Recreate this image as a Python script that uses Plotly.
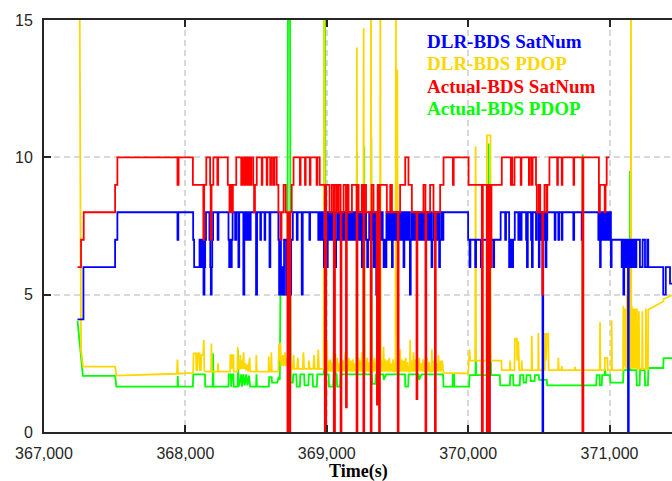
import plotly.graph_objects as go

# ---------------- data (time in s, value) ----------------
DLR_SATNUM = [
    (367237, 4.1), (367279, 6), (367503, 7), (367519, 8), (367944, 7), (367950, 8),
    (368055, 7), (368062, 6), (368100, 7), (368106, 6), (368112, 7), (368118, 6), (368124, 7),
    (368128, 5), (368135, 6), (368140, 7), (368146, 8), (368170, 7), (368176, 6), (368180, 5),
    (368186, 6), (368190, 7), (368196, 8), (368228, 7), (368234, 8), (368305, 7), (368310, 6),
    (368316, 7), (368322, 6), (368328, 7), (368334, 8), (368352, 7), (368360, 8), (368375, 6),
    (368381, 8), (368410, 5), (368417, 8), (368424, 7), (368429, 8), (368435, 7), (368440, 8),
    (368446, 7), (368451, 8), (368457, 7), (368462, 8), (368500, 5), (368507, 8), (368530, 7),
    (368535, 8), (368560, 7), (368565, 8), (368595, 6), (368601, 8), (368658, 7), (368663, 5),
    (368670, 7), (368676, 5), (368684, 6), (368690, 5), (368698, 7), (368712, 5), (368718, 7),
    (368724, 5), (368730, 7), (368740, 5), (368748, 7), (368760, 8), (368788, 7), (368794, 8),
    (368823, 5), (368830, 8), (368877, 7), (368882, 8), (368940, 7), (368948, 8), (368956, 7),
    (368964, 8), (368972, 7), (368980, 6), (368986, 8), (368995, 7), (369001, 6), (369007, 8),
    (369015, 7), (369022, 8), (369030, 7), (369038, 8), (369046, 7), (369054, 8), (369060, 6),
    (369066, 7), (369074, 8), (369082, 7), (369090, 8), (369098, 7), (369106, 8), (369114, 7),
    (369122, 8), (369130, 7), (369138, 8), (369146, 7), (369154, 8), (369162, 7), (369170, 8),
    (369178, 7), (369186, 8), (369194, 7), (369202, 8), (369210, 7), (369218, 8), (369226, 7),
    (369234, 8), (369242, 7), (369248, 6), (369254, 8), (369262, 7), (369270, 8), (369278, 7),
    (369286, 6), (369292, 7), (369300, 8), (369310, 7), (369318, 8), (369326, 7), (369331, 6),
    (369337, 8), (369350, 5), (369356, 7), (369364, 6), (369370, 8), (369380, 7), (369388, 8),
    (369396, 7), (369402, 6), (369408, 7), (369416, 6), (369422, 8), (369430, 7), (369438, 8),
    (369446, 7), (369454, 8), (369461, 6), (369467, 8), (369475, 7), (369483, 8), (369491, 7),
    (369499, 8), (369507, 7), (369515, 8), (369523, 7), (369531, 8), (369539, 7), (369543, 6),
    (369549, 8), (369557, 7), (369565, 8), (369573, 7), (369581, 8), (369588, 5), (369594, 7),
    (369602, 8), (369610, 7), (369618, 8), (369626, 7), (369634, 8), (369642, 7), (369650, 8),
    (369658, 7), (369666, 8), (369674, 7), (369682, 8), (369690, 7), (369698, 8), (369706, 7),
    (369714, 8), (369722, 7), (369730, 8), (369741, 6), (369747, 7), (369755, 8), (369763, 7),
    (369771, 8), (369779, 7), (369787, 8), (369795, 6), (369801, 7), (369809, 8), (369817, 7),
    (369825, 8), (370000, 7), (370010, 6), (370016, 7), (370050, 6), (370056, 7), (370090, 6),
    (370096, 7), (370140, 5), (370145, 0), (370152, 6), (370158, 7), (370178, 6), (370184, 7),
    (370230, 8), (370262, 7), (370268, 8), (370290, 6), (370296, 7), (370300, 6), (370306, 7),
    (370312, 6), (370318, 7), (370330, 8), (370355, 7), (370361, 8), (370372, 7), (370378, 8),
    (370410, 7), (370416, 6), (370422, 8), (370445, 7), (370451, 6), (370457, 8), (370480, 7),
    (370486, 8), (370500, 6), (370505, 8), (370512, 7), (370518, 8), (370526, 0), (370531, 7),
    (370537, 8), (370548, 6), (370554, 7), (370560, 8), (370612, 7), (370618, 8), (370638, 7),
    (370644, 8), (370662, 7), (370667, 8), (370744, 7), (370750, 8), (370803, 7), (370808, 8),
    (370921, 7), (370926, 8), (370933, 6), (370938, 8), (370945, 7), (370950, 8), (370958, 7),
    (370964, 8), (370972, 7), (370978, 8), (370985, 7), (370990, 8), (370998, 7), (371003, 8),
    (371010, 6), (371015, 7), (371086, 6), (371092, 7), (371098, 5), (371104, 6), (371110, 7),
    (371116, 6), (371122, 7), (371128, 6), (371131, 0), (371136, 7), (371142, 6), (371148, 7),
    (371155, 6), (371162, 7), (371170, 6), (371176, 7), (371184, 6), (371190, 7), (371215, 6),
    (371234, 7), (371251, 6), (371267, 7), (371274, 6), (371380, 5), (371398, 6), (371428, 5.4),
    (371442, 5.4),
]

ACTUAL_SATNUM = [
    (367237, 6), (367262, 7), (367281, 8), (367503, 9), (367519, 10), (367944, 9), (367952, 10),
    (368053, 9), (368127, 7), (368133, 9), (368148, 10), (368175, 9), (368179, 7), (368185, 9),
    (368198, 10), (368226, 9), (368232, 10), (368300, 9), (368312, 8), (368318, 9), (368330, 8),
    (368336, 9), (368360, 10), (368395, 9), (368400, 10), (368412, 9), (368417, 10), (368428, 9),
    (368433, 10), (368445, 9), (368450, 10), (368460, 9), (368466, 10), (368480, 9), (368486, 8),
    (368492, 9), (368505, 10), (368540, 9), (368545, 10), (368575, 9), (368580, 10), (368600, 9),
    (368606, 10), (368620, 9), (368630, 10), (368646, 9), (368658, 8), (368672, 7), (368680, 8),
    (368695, 9), (368710, 8), (368722, 0), (368728, 8), (368736, 0), (368742, 8), (368752, 9),
    (368765, 10), (368810, 9), (368815, 10), (368846, 9), (368851, 10), (368880, 9), (368885, 10),
    (368928, 9), (368933, 10), (368950, 9), (368986, 0), (368996, 9), (369020, 8), (369036, 9),
    (369050, 0), (369058, 9), (369072, 8), (369084, 9), (369098, 0), (369104, 8), (369119, 9),
    (369136, 0.9), (369142, 9), (369154, 8), (369178, 9), (369211, 0), (369217, 9), (369225, 8),
    (369248, 9), (369259, 0), (369265, 9), (369278, 8), (369311, 0), (369317, 9), (369331, 8),
    (369355, 1), (369360, 9), (369370, 0), (369376, 9), (369425, 8), (369449, 9), (369461, 8),
    (369502, 0), (369508, 8), (369519, 9), (369555, 10), (369578, 9), (369602, 8), (369635, 1.2),
    (369641, 8), (369684, 9), (369698, 0), (369704, 8), (369731, 9), (369755, 8), (369765, 0),
    (369771, 8), (369802, 9), (369826, 10), (369892, 9), (369898, 10), (370003, 9), (370097, 0),
    (370104, 9), (370132, 0), (370137, 9), (370148, 0), (370153, 9), (370160, 6), (370165, 9),
    (370238, 10), (370302, 9), (370307, 10), (370312, 9), (370328, 10), (370372, 9), (370377, 10),
    (370430, 9), (370436, 10), (370450, 9), (370456, 10), (370480, 9), (370486, 8), (370500, 9),
    (370510, 8), (370525, 5), (370530, 8), (370540, 9), (370555, 8), (370560, 9), (370575, 10),
    (370630, 9), (370635, 10), (370662, 9), (370667, 10), (370745, 9), (370750, 10), (370808, 0),
    (370815, 10), (370925, 8), (370932, 9), (370966, 8), (370972, 9), (370980, 10), (370999, 10),
]

DLR_PDOP = [
    (367252, 16), (367262, 3.0), (367276, 2.38), (367503, 2.38), (367512, 2.05), (367940, 2.12),
    (367944, 2.64), (367948, 2.12), (368052, 2.15), (368055, 2.15), (368058, 2.86), (368075, 2.86),
    (368078, 2.25), (368085, 2.25), (368088, 2.86), (368100, 2.86), (368103, 2.25), (368110, 2.25),
    (368113, 2.8), (368126, 2.8), (368130, 3.35), (368134, 2.25), (368142, 2.2), (368182, 2.2),
    (368184, 3.22), (368187, 2.2), (368229, 2.2), (368231, 2.5), (368234, 2.2), (368316, 2.2),
    (368318, 2.8), (368326, 2.8), (368328, 2.3), (368334, 2.8), (368340, 2.8), (368342, 2.2),
    (368368, 2.2), (368370, 3.1), (368373, 2.3), (368385, 2.3), (368389, 2.8), (368392, 2.3),
    (368400, 2.6), (368404, 2.3), (368412, 2.9), (368415, 2.3), (368425, 2.5), (368428, 2.25),
    (368440, 2.45), (368443, 2.2), (368455, 2.7), (368458, 2.2), (368500, 2.2), (368502, 2.8),
    (368505, 2.2), (368588, 2.2), (368590, 2.75), (368593, 2.2), (368605, 2.2), (368608, 2.9),
    (368611, 2.2), (368658, 2.2), (368662, 3.2), (368668, 2.6), (368672, 3.25), (368678, 2.4),
    (368690, 2.8), (368694, 2.4), (368705, 2.9), (368709, 2.4), (368720, 2.7), (368726, 2.4),
    (368735, 3.3), (368740, 2.5), (368750, 2.3), (368760, 2.3), (368765, 2.8), (368770, 2.3),
    (368790, 2.3), (368795, 2.7), (368800, 2.3), (368830, 2.3), (368835, 2.9), (368840, 2.3),
    (368870, 2.3), (368874, 2.6), (368880, 2.3), (368905, 2.3), (368910, 2.8), (368915, 2.3),
    (368935, 2.3), (368940, 3.0), (368945, 2.3), (368978, 2.3), (368983, 16), (368988, 2.6),
    (368995, 2.2), (369001, 3.35), (369004, 2.2), (369012, 2.6), (369018, 2.2), (369026, 2.65),
    (369032, 2.2), (369040, 2.5), (369046, 2.2), (369048, 2.9), (369051, 2.2), (369060, 2.6),
    (369066, 2.2), (369074, 2.7), (369080, 2.2), (369088, 2.5), (369094, 2.2), (369102, 2.65),
    (369108, 2.2), (369116, 2.6), (369122, 2.2), (369131, 2.9), (369134, 2.2), (369142, 2.55),
    (369148, 2.2), (369156, 2.7), (369162, 2.2), (369170, 2.6), (369176, 2.2), (369184, 2.65),
    (369190, 2.2), (369198, 2.5), (369204, 2.2), (369211, 2.2), (369213, 14.0), (369215, 2.2),
    (369224, 2.7), (369230, 2.2), (369238, 2.6), (369244, 2.2), (369248, 2.9), (369251, 2.2),
    (369258, 2.2), (369261, 14.7), (369264, 2.2), (369272, 2.6), (369278, 2.2), (369286, 2.7),
    (369292, 2.2), (369300, 2.55), (369306, 2.2), (369310, 2.2), (369313, 16), (369316, 2.2),
    (369324, 2.6), (369330, 2.2), (369338, 2.7), (369344, 2.2), (369352, 2.5), (369358, 2.2),
    (369366, 2.65), (369372, 2.2), (369376, 2.2), (369379, 16), (369382, 2.2), (369390, 2.6),
    (369396, 2.2), (369402, 3.1), (369405, 2.2), (369414, 2.65), (369420, 2.2), (369428, 2.6),
    (369434, 2.2), (369442, 2.7), (369448, 2.2), (369456, 2.5), (369462, 2.2), (369470, 2.65),
    (369476, 2.2), (369486, 2.2), (369489, 16), (369492, 2.2), (369496, 2.2), (369499, 13.2),
    (369502, 2.2), (369510, 2.6), (369516, 2.2), (369519, 3.0), (369522, 2.2), (369530, 2.65),
    (369536, 2.2), (369544, 2.6), (369550, 2.2), (369558, 2.7), (369564, 2.2), (369572, 2.55),
    (369578, 2.2), (369588, 2.2), (369590, 3.35), (369593, 2.2), (369600, 2.6), (369606, 2.2),
    (369614, 2.9), (369617, 2.2), (369626, 2.65), (369632, 2.2), (369640, 2.6), (369646, 2.2),
    (369654, 2.7), (369660, 2.2), (369668, 2.5), (369674, 2.2), (369682, 2.65), (369688, 2.2),
    (369696, 2.6), (369702, 2.2), (369710, 2.7), (369716, 2.2), (369724, 2.55), (369730, 2.2),
    (369741, 2.2), (369743, 3.0), (369746, 2.2), (369754, 2.6), (369760, 2.2), (369768, 2.65),
    (369774, 2.2), (369782, 2.5), (369788, 2.2), (369790, 2.8), (369793, 2.2), (369802, 2.6),
    (369808, 2.2), (369816, 2.6), (369822, 2.2), (369826, 2.15), (370000, 2.13), (370004, 2.6),
    (370010, 3.0), (370014, 2.6), (370050, 2.6), (370053, 10.4), (370056, 2.6), (370130, 2.6),
    (370133, 10.8), (370158, 10.8), (370161, 2.6), (370235, 2.6), (370238, 2.25), (370295, 2.25),
    (370297, 2.6), (370300, 2.25), (370328, 2.25), (370331, 3.4), (370345, 3.4), (370347, 2.6),
    (370355, 3.3), (370361, 2.25), (370377, 2.25), (370379, 2.6), (370382, 2.25), (370448, 2.25),
    (370450, 3.5), (370453, 2.25), (370495, 2.25), (370497, 3.6), (370500, 2.25), (370542, 2.25),
    (370544, 3.6), (370550, 2.6), (370556, 3.6), (370560, 3.5), (370566, 3.6), (370570, 2.25),
    (370636, 2.25), (370638, 2.7), (370641, 2.25), (370660, 2.25), (370662, 2.4), (370665, 2.25),
    (370754, 2.25), (370756, 2.37), (370760, 2.25), (370931, 2.25), (370933, 4.0), (370936, 2.25),
    (370966, 2.25), (370968, 2.7), (370985, 2.7), (370987, 2.25), (371013, 2.25), (371015, 4.07),
    (371018, 2.25), (371096, 2.25), (371098, 4.6), (371102, 2.4), (371110, 4.5), (371113, 2.3),
    (371116, 4.4), (371119, 2.3), (371122, 5.0), (371125, 2.3), (371128, 6.5), (371131, 2.3),
    (371134, 6.4), (371137, 2.4), (371140, 6.5), (371143, 2.3), (371148, 4.5), (371150, 2.3),
    (371152, 16), (371154, 2.3), (371158, 4.6), (371161, 2.3), (371164, 4.4), (371167, 2.3),
    (371170, 4.5), (371173, 2.3), (371176, 4.3), (371179, 2.3), (371182, 4.5), (371185, 2.3),
    (371188, 4.4), (371191, 2.3), (371194, 4.5), (371197, 2.3), (371206, 2.3), (371208, 4.4),
    (371211, 2.3), (371230, 2.3), (371232, 4.4), (371235, 2.3), (371256, 2.3), (371258, 4.5),
    (371261, 2.3), (371272, 2.3), (371274, 4.45), (371380, 4.75), (371384, 4.85), (371442, 4.98),
]

ACTUAL_PDOP = [
    (367237, 4.05), (367258, 3.0), (367275, 2.04), (367503, 2.04), (367512, 1.65), (367944, 1.65),
    (367946, 2.04), (367949, 1.65), (368053, 1.65), (368056, 2.1), (368138, 2.1), (368141, 1.65),
    (368193, 1.65), (368196, 2.86), (368199, 1.65), (368305, 1.65), (368307, 2.1), (368322, 2.1),
    (368324, 1.65), (368330, 2.1), (368340, 2.1), (368342, 1.65), (368370, 1.65), (368373, 2.98),
    (368376, 1.65), (368385, 1.8), (368395, 2.1), (368400, 1.65), (368410, 2.1), (368420, 1.7),
    (368430, 2.1), (368440, 1.7), (368450, 2.05), (368458, 1.65), (368500, 1.65), (368503, 2.1),
    (368506, 1.65), (368590, 1.65), (368593, 2.0), (368610, 2.0), (368613, 1.8), (368650, 1.8),
    (368660, 2.0), (368668, 1.9), (368672, 5.0), (368722, 5.0), (368726, 16), (368740, 16),
    (368745, 1.8), (368760, 1.8), (368763, 2.1), (368785, 2.1), (368788, 1.65), (368810, 1.65),
    (368813, 2.1), (368840, 2.1), (368843, 1.7), (368870, 1.7), (368873, 2.1), (368900, 2.1),
    (368903, 1.65), (368930, 1.65), (368933, 2.1), (368980, 2.1), (368983, 16), (368988, 16),
    (368992, 2.1), (369013, 2.1), (369016, 1.65), (369045, 1.65), (369048, 2.1), (369060, 2.86),
    (369063, 2.1), (369070, 2.1), (369073, 1.65), (369095, 1.65), (369098, 2.1), (369211, 2.1),
    (369213, 10.2), (369216, 2.1), (369263, 2.1), (369265, 10.4), (369268, 2.1), (369313, 2.1),
    (369315, 10.7), (369318, 2.1), (369322, 1.75), (369345, 1.75), (369348, 2.1), (369400, 2.1),
    (369403, 1.9), (369420, 2.1), (369553, 2.1), (369556, 1.65), (369576, 1.65), (369579, 2.1),
    (369650, 2.1), (369653, 1.9), (369670, 2.1), (369823, 2.1), (369826, 1.65), (369890, 1.65),
    (369892, 2.1), (369900, 2.1), (369902, 1.65), (370007, 1.65), (370010, 2.07), (370052, 2.07),
    (370054, 3.0), (370057, 2.07), (370094, 2.07), (370096, 2.6), (370099, 2.07), (370143, 2.07),
    (370145, 10.5), (370148, 2.07), (370158, 2.07), (370160, 2.86), (370163, 2.07), (370224, 2.07),
    (370227, 1.7), (370295, 1.7), (370298, 2.07), (370318, 2.07), (370321, 1.7), (370365, 1.7),
    (370368, 2.07), (370390, 2.07), (370393, 1.8), (370410, 1.8), (370413, 2.07), (370440, 2.07),
    (370443, 1.85), (370470, 1.85), (370473, 2.07), (370500, 2.07), (370503, 1.9), (370556, 1.9),
    (370559, 1.7), (370808, 1.7), (370810, 10.1), (370812, 1.7), (370906, 1.7), (370909, 2.07),
    (370930, 2.07), (370932, 1.7), (370945, 1.7), (370948, 2.07), (370965, 2.07), (370968, 2.3),
    (370972, 2.07), (371003, 2.07), (371006, 1.8), (371096, 1.8), (371099, 2.25), (371143, 2.25),
    (371145, 9.5), (371148, 2.25), (371190, 2.25), (371193, 1.7), (371213, 1.7), (371216, 2.25),
    (371249, 2.25), (371252, 1.7), (371272, 1.7), (371275, 2.33), (371380, 2.33), (371383, 2.69),
    (371442, 2.69),
]

X_TICKS = [367000, 368000, 369000, 370000, 371000]
X_TICK_TEXT = ["367,000", "368,000", "369,000", "370,000", "371,000"]
Y_TICKS = [0, 5, 10, 15]
LEGEND_NAMES = ["DLR-BDS SatNum", "DLR-BDS PDOP", "Actual-BDS SatNum", "Actual-BDS PDOP"]
COLORS = {"DLR-BDS SatNum": "#0000ff", "DLR-BDS PDOP": "#ffd700",
          "Actual-BDS SatNum": "#ff0000", "Actual-BDS PDOP": "#00ff00"}


def split(pairs):
    return [p[0] for p in pairs], [p[1] for p in pairs]


fig = go.Figure()
# drawing order: green, gold, blue, red (red on top)
for name, pairs, shape in [("Actual-BDS PDOP", ACTUAL_PDOP, "linear"),
                           ("DLR-BDS PDOP", DLR_PDOP, "linear"),
                           ("DLR-BDS SatNum", DLR_SATNUM, "hv"),
                           ("Actual-BDS SatNum", ACTUAL_SATNUM, "hv")]:
    t, v = split(pairs)
    fig.add_trace(go.Scatter(x=t, y=v, mode="lines", name=name, showlegend=False,
                             line=dict(color=COLORS[name], width=1.8, shape=shape)))

L, R, T, B = 44, 0, 20, 49
W, H = 672, 481
PW, PH = W - L - R, H - T - B

# legend as coloured bold text
leg_y = [41.7, 63.6, 86.0, 108.3]
for name, py in zip(LEGEND_NAMES, leg_y):
    fig.add_annotation(xref="paper", yref="paper", x=(425 - L) / PW, y=(H - B - py) / PH,
                       xanchor="left", yanchor="middle", showarrow=False,
                       text="<b>" + name + "</b>",
                       font=dict(family="Liberation Serif", size=19, color=COLORS[name]))

fig.add_annotation(xref="paper", yref="paper", x=0.5, y=(H - B - 471.5) / PH,
                   xanchor="center", yanchor="middle", showarrow=False, text="<b>Time(s)</b>",
                   font=dict(family="Liberation Serif", size=18, color="#000000"))

axis_common = dict(showline=True, linecolor="#262626", linewidth=2, ticks="inside",
                   ticklen=7, tickwidth=2, tickcolor="#262626", zeroline=False,
                   tickfont=dict(family="Liberation Sans", size=16, color="#262626"),
                   showgrid=True, gridcolor="#d9d9d9", gridwidth=2, griddash="6px,4px")

fig.update_layout(
    width=W, height=H, margin=dict(l=L, r=R, t=T, b=B),
    paper_bgcolor="white", plot_bgcolor="white",
    xaxis=dict(range=[367000, 371442], tickvals=X_TICKS, ticktext=X_TICK_TEXT,
               mirror="ticks", ticklabelstandoff=6, **axis_common),
    yaxis=dict(range=[0, 15], tickvals=Y_TICKS, mirror=False, ticklabelstandoff=6,
               **axis_common),
)

fig.write_html("out.html")
